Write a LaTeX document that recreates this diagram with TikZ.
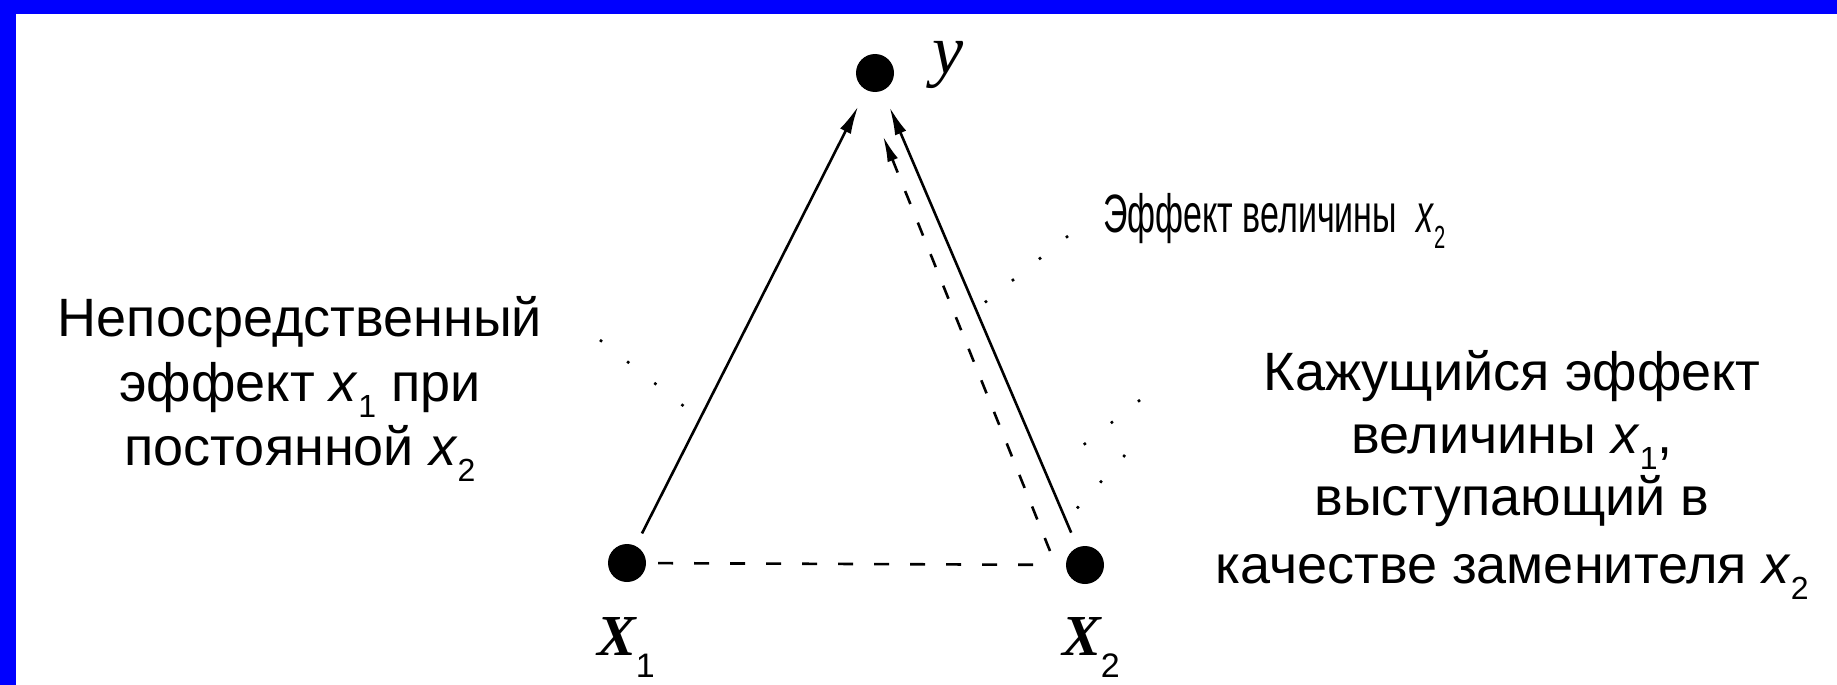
\documentclass[tikz,border=0pt]{standalone}
\usepackage{fontspec}
\setmainfont{Liberation Sans}
\newfontfamily\seriffam{Liberation Serif}
\usetikzlibrary{arrows.meta}
\definecolor{frameblue}{RGB}{0,0,255}
\newcommand\vx[1]{\textit{x}\raisebox{-0.3em}{\fontsize{32}{32}\selectfont #1}}
\begin{document}
\begin{tikzpicture}[x=1pt,y=-1pt,
  dot/.style={circle,fill=black,inner sep=0pt,minimum size=38pt},
  lbl/.style={inner sep=0pt,font=\fontsize{54}{60}\selectfont},
  varlbl/.style={inner sep=0pt,font=\seriffam\bfseries\itshape\fontsize{58}{58}\selectfont},
  arr/.style={line width=2.6pt,-{Latex[length=28pt,width=12pt]}},
  darr/.style={line width=2.6pt,dash pattern=on 14pt off 20pt,-{Latex[length=26pt,width=11pt]}},
  hdash/.style={line width=2.6pt,dash pattern=on 15pt off 21pt},
  lead/.style={line width=2.6pt,dash pattern=on 2.6pt off 32pt}]
\useasboundingbox (0,0) rectangle (1837,685);
\fill[white] (0,0) rectangle (1837,685);
\fill[frameblue] (0,0) rectangle (1837,14);
\fill[frameblue] (0,0) rectangle (16,685);

% dots
\node[dot] (ny) at (875,73) {};
\node[dot] (nx1) at (627,563) {};
\node[dot] (nx2) at (1085,565) {};

% variable labels
\node[varlbl,anchor=base west,font=\seriffam\itshape\fontsize{70}{70}\selectfont] (ylab) at (932,74) {y};
\node[varlbl,anchor=base west] (x1lab) at (597,655) {X\raisebox{-22pt}{\normalfont\fontsize{34}{34}\selectfont 1}};
\node[varlbl,anchor=base west] (x2lab) at (1062,655) {X\raisebox{-22pt}{\normalfont\fontsize{34}{34}\selectfont 2}};

% connectors
\draw[arr,shorten <=14pt,shorten >=18pt] (nx1) -- (ny);
\draw[arr,shorten <=16pt,shorten >=18pt] (nx2) -- (ny);
\coordinate (ds) at (1050,551);
\coordinate (de) at (883,136);
\draw[darr] (ds) -- (de);
\draw[hdash,shorten <=12pt,shorten >=30pt] (nx1) -- (nx2);

% leaders
\coordinate (la1) at (600,340); \coordinate (la2) at (700,419);
\coordinate (lb1) at (1068,236); \coordinate (lb2) at (978,308);
\coordinate (lc1) at (1140,400); \coordinate (lc2) at (1062,462);
\coordinate (ld1) at (1125,455); \coordinate (ld2) at (1062,525);
\draw[lead] (la1) -- (la2);
\draw[lead] (lb1) -- (lb2);
\draw[lead] (lc1) -- (lc2);
\draw[lead] (ld1) -- (ld2);

% texts
\node[lbl,anchor=base] (L1) at (300,336) {Непосредственный};
\node[lbl,anchor=base] (L2) at (300,401) {эффект \vx{1} при};
\node[lbl,anchor=base] (L3) at (300,465) {постоянной \vx{2}};
\node[lbl,anchor=base west] (T1) at (1103,232) {\scalebox{0.63}[1]{Эффект величины \ \vx{2}}};
\node[lbl,anchor=base] (R1) at (1512,390) {Кажущийся эффект};
\node[lbl,anchor=base] (R2) at (1512,453) {величины \vx{1},};
\node[lbl,anchor=base] (R3) at (1512,515) {выступающий в};
\node[lbl,anchor=base] (R4) at (1512,583) {качестве заменителя \vx{2}};
\end{tikzpicture}
\end{document}
